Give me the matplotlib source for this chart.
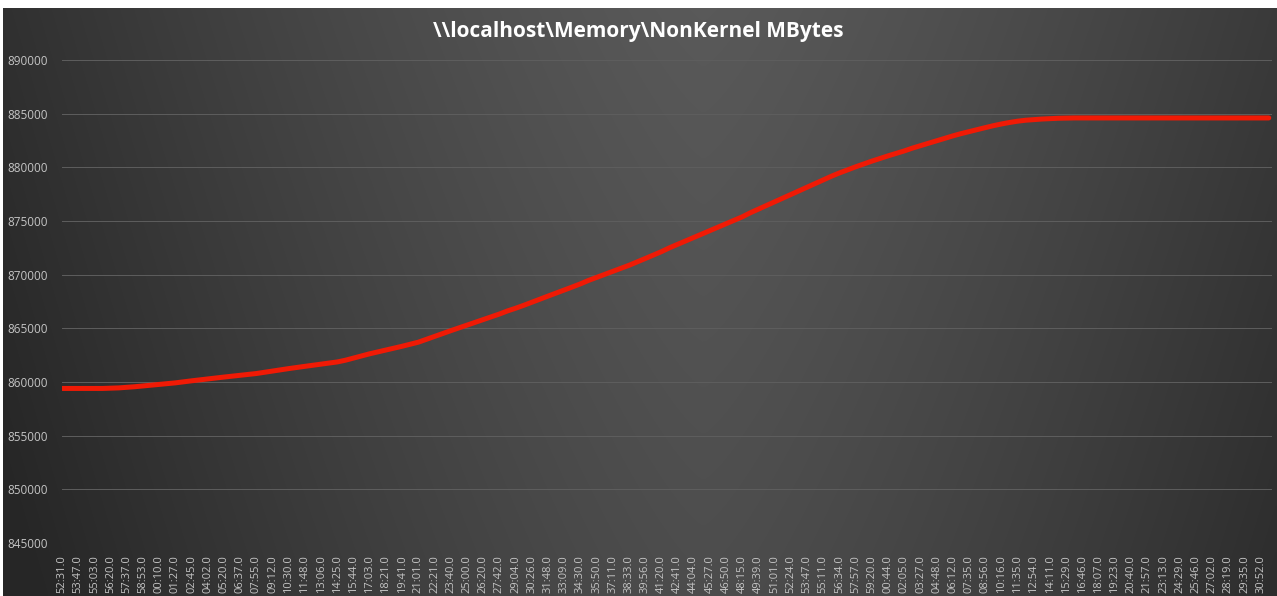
import numpy as np
import matplotlib
matplotlib.use('Agg')
import matplotlib.pyplot as plt

# NonKernel MBytes samples (two samples per shown time label)
values = [
    859400, 859400, 859400, 859400, 859400, 859400, 859420, 859450, 859500, 859560,
    859630, 859700, 859780, 859850, 859920, 860020, 860110, 860200, 860290, 860370,
    860460, 860540, 860620, 860700, 860790, 860900, 861020, 861140, 861250, 861360,
    861460, 861560, 861660, 861770, 861870, 862030, 862230, 862430, 862630, 862810,
    862980, 863150, 863330, 863520, 863710, 863980, 864250, 864520, 864780, 865040,
    865300, 865550, 865810, 866070, 866330, 866620, 866870, 867140, 867430, 867710,
    868000, 868280, 868570, 868850, 869140, 869460, 869740, 870030, 870310, 870590,
    870870, 871180, 871500, 871820, 872140, 872500, 872820, 873140, 873460, 873780,
    874100, 874420, 874740, 875060, 875390, 875770, 876110, 876450, 876790, 877130,
    877470, 877820, 878160, 878500, 878820, 879170, 879480, 879770, 880050, 880320,
    880580, 880830, 881070, 881300, 881530, 881790, 882020, 882250, 882480, 882710,
    882930, 883140, 883330, 883520, 883700, 883880, 884040, 884180, 884300, 884390,
    884450, 884500, 884540, 884570, 884590, 884600, 884600, 884600, 884600, 884600,
    884600, 884600, 884600, 884600, 884600, 884600, 884600, 884600, 884600, 884600,
    884600, 884600, 884600, 884600, 884600, 884600, 884600, 884600, 884600, 884600,
]

time_labels = [
    "52:31.0", "53:47.0", "55:03.0", "56:20.0", "57:37.0", "58:53.0", "00:10.0", "01:27.0",
    "02:45.0", "04:02.0", "05:20.0", "06:37.0", "07:55.0", "09:12.0", "10:30.0", "11:48.0",
    "13:06.0", "14:25.0", "15:44.0", "17:03.0", "18:21.0", "19:41.0", "21:01.0", "22:21.0",
    "23:40.0", "25:00.0", "26:20.0", "27:42.0", "29:04.0", "30:26.0", "31:48.0", "33:09.0",
    "34:30.0", "35:50.0", "37:11.0", "38:33.0", "39:56.0", "41:20.0", "42:41.0", "44:04.0",
    "45:27.0", "46:50.0", "48:15.0", "49:39.0", "51:01.0", "52:24.0", "53:47.0", "55:11.0",
    "56:34.0", "57:57.0", "59:20.0", "00:44.0", "02:05.0", "03:27.0", "04:48.0", "06:12.0",
    "07:35.0", "08:56.0", "10:16.0", "11:35.0", "12:54.0", "14:11.0", "15:29.0", "16:46.0",
    "18:07.0", "19:23.0", "20:40.0", "21:57.0", "23:13.0", "24:29.0", "25:46.0", "27:02.0",
    "28:19.0", "29:35.0", "30:52.0",
]

title = r"\\localhost\Memory\NonKernel MBytes"

W, H = 1277, 596
fig = plt.figure(figsize=(W / 100, H / 100), dpi=100, facecolor='white')

# --- dark gradient background (lighter in the middle, darker at the sides) ---
bg = fig.add_axes([3 / W, 0, 1 - 3 / W, 1 - 8 / H])
bg.set_axis_off()
gx, gy = np.meshgrid(np.linspace(0, 1, 400), np.linspace(0, 1, 200))
dx = np.abs(gx - 0.55) / 0.55
shade = 0.35 - 0.16 * dx ** 1.3 - 0.05 * gy
shade = np.clip(shade, 0.15, 0.37)
bg.imshow(np.dstack([shade] * 3), aspect='auto', extent=(0, 1, 1, 0), interpolation='bilinear')
bg.set_zorder(0)

# --- plot ---
ax = fig.add_axes([62 / W, 1 - 543 / H, (1272 - 62) / W, (543 - 60) / H])
ax.set_zorder(1)
ax.patch.set_alpha(0)

x = np.arange(len(values))
ax.plot(x, values, color='#f01a05', lw=3.6, solid_capstyle='round', zorder=3)

ax.set_ylim(845000, 890000)
ax.set_yticks(np.arange(845000, 890001, 5000))
ax.set_xlim(0, 149.4)
ax.set_xticks(np.arange(0, len(values), 2))
ax.set_xticklabels(time_labels, rotation=90)

ax.grid(axis='y', color='#5e5e5e', lw=0.7)
ax.set_axisbelow(True)
for s in ax.spines.values():
    s.set_visible(False)
ax.tick_params(axis='both', length=0, colors='#c4c4c4')
ax.tick_params(axis='x', pad=9, labelsize=8)
ax.tick_params(axis='y', pad=10, labelsize=8.5)
for lab in ax.get_xticklabels() + ax.get_yticklabels():
    lab.set_family('Open Sans')

fig.text(0.5, 1 - 31 / H, title, ha='center', va='center', color='white',
         fontsize=15, fontweight='bold', family='Open Sans')

fig.savefig('out.png', dpi=100, facecolor=fig.get_facecolor())
